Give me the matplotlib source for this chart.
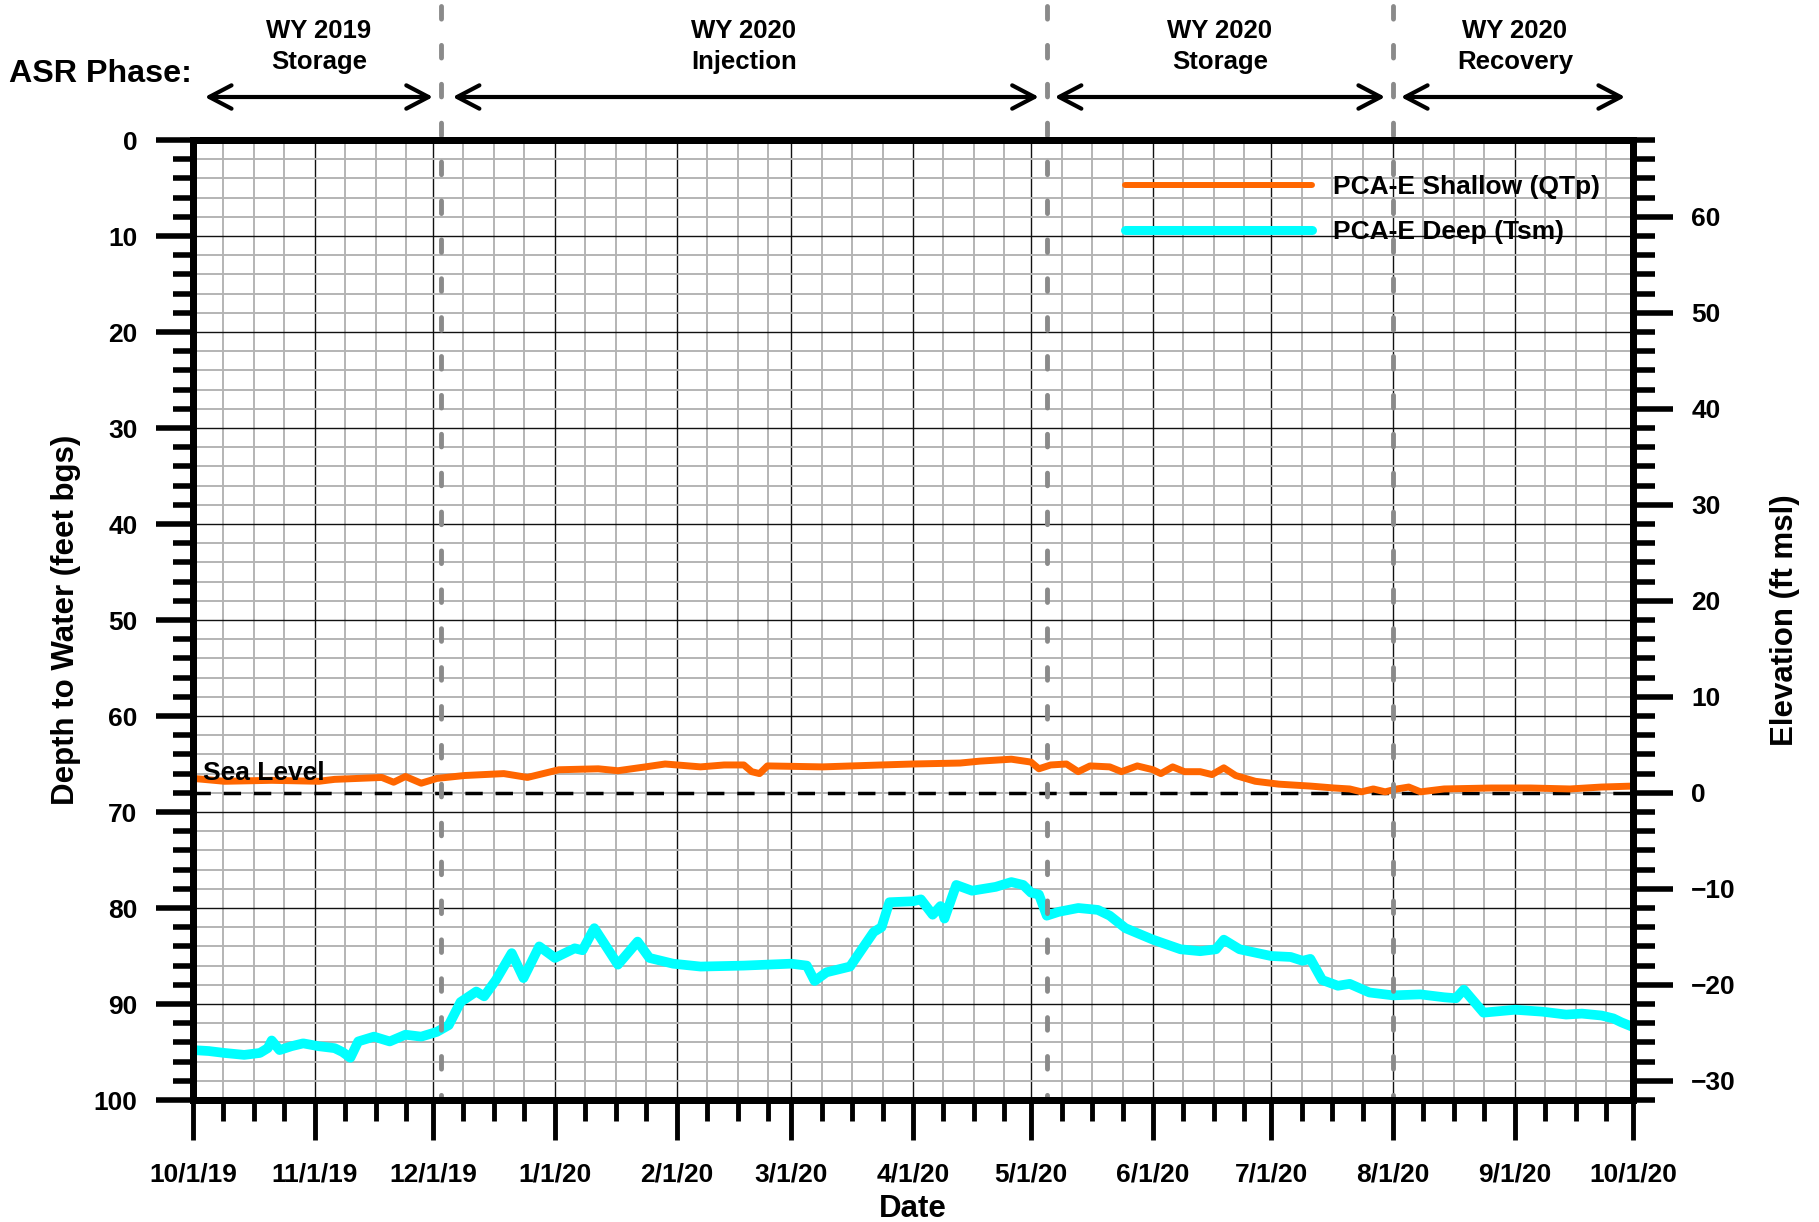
import matplotlib
matplotlib.use('Agg')
import matplotlib.pyplot as plt
import matplotlib.transforms as mtransforms
from matplotlib.patches import ArrowStyle
from matplotlib.lines import Line2D
from matplotlib.ticker import MultipleLocator, FixedLocator, FuncFormatter
import matplotlib.dates as mdates
import pandas as pd

plt.rcParams['font.family'] = ['Liberation Sans', 'DejaVu Sans']
plt.rcParams['font.weight'] = 'bold'

# ---------------- data ----------------
shallow_dates = ['2019-10-01', '2019-10-09', '2019-10-21', '2019-11-02', '2019-11-06', '2019-11-18',
                 '2019-11-21', '2019-11-24', '2019-11-28', '2019-12-02', '2019-12-09', '2019-12-19',
                 '2019-12-25', '2020-01-02', '2020-01-12', '2020-01-17', '2020-01-24', '2020-01-29',
                 '2020-02-07', '2020-02-13', '2020-02-18', '2020-02-20', '2020-02-22', '2020-02-24',
                 '2020-03-09', '2020-03-24', '2020-04-01', '2020-04-13', '2020-04-18', '2020-04-26',
                 '2020-05-01', '2020-05-03', '2020-05-06', '2020-05-10', '2020-05-13', '2020-05-16',
                 '2020-05-21', '2020-05-24', '2020-05-28', '2020-06-01', '2020-06-03', '2020-06-06',
                 '2020-06-09', '2020-06-13', '2020-06-16', '2020-06-19', '2020-06-22', '2020-06-27',
                 '2020-07-03', '2020-07-11', '2020-07-17', '2020-07-21', '2020-07-24', '2020-07-27',
                 '2020-07-30', '2020-08-02', '2020-08-05', '2020-08-08', '2020-08-14', '2020-08-26',
                 '2020-09-05', '2020-09-15', '2020-09-23', '2020-10-01']
shallow_depth = [66.5, 66.8, 66.7, 66.8, 66.6, 66.4,
                 66.9, 66.3, 67.0, 66.5, 66.2, 66.0,
                 66.4, 65.6, 65.5, 65.7, 65.3, 65.0,
                 65.3, 65.1, 65.1, 65.8, 66.0, 65.2,
                 65.3, 65.1, 65.0, 64.9, 64.7, 64.5,
                 64.8, 65.5, 65.1, 65.0, 65.8, 65.2,
                 65.3, 65.8, 65.2, 65.6, 66.0, 65.3,
                 65.8, 65.8, 66.1, 65.4, 66.2, 66.8,
                 67.1, 67.3, 67.5, 67.6, 67.9, 67.6,
                 67.9, 67.6, 67.4, 67.9, 67.6, 67.5,
                 67.5, 67.6, 67.4, 67.3]

deep_dates = ['2019-10-01', '2019-10-05', '2019-10-09', '2019-10-14', '2019-10-18', '2019-10-20',
              '2019-10-21', '2019-10-23', '2019-10-26', '2019-10-29', '2019-11-02', '2019-11-06',
              '2019-11-08', '2019-11-10', '2019-11-12', '2019-11-16', '2019-11-20', '2019-11-24',
              '2019-11-28', '2019-12-02', '2019-12-05', '2019-12-08', '2019-12-12', '2019-12-14',
              '2019-12-17', '2019-12-21', '2019-12-24', '2019-12-28', '2020-01-01', '2020-01-06',
              '2020-01-08', '2020-01-11', '2020-01-17', '2020-01-22', '2020-01-25', '2020-01-31',
              '2020-02-07', '2020-02-18', '2020-03-01', '2020-03-05', '2020-03-07', '2020-03-10',
              '2020-03-16', '2020-03-19', '2020-03-22', '2020-03-24', '2020-03-26', '2020-04-01',
              '2020-04-03', '2020-04-06', '2020-04-08', '2020-04-09', '2020-04-12', '2020-04-16',
              '2020-04-22', '2020-04-26', '2020-04-29', '2020-05-01', '2020-05-03', '2020-05-05',
              '2020-05-08', '2020-05-13', '2020-05-18', '2020-05-21', '2020-05-25', '2020-06-01',
              '2020-06-08', '2020-06-13', '2020-06-17', '2020-06-19', '2020-06-23', '2020-07-01',
              '2020-07-06', '2020-07-09', '2020-07-11', '2020-07-14', '2020-07-18', '2020-07-21',
              '2020-07-26', '2020-08-01', '2020-08-08', '2020-08-14', '2020-08-17', '2020-08-19',
              '2020-08-24', '2020-09-01', '2020-09-08', '2020-09-14', '2020-09-18', '2020-09-23',
              '2020-09-26', '2020-09-28', '2020-10-01']
deep_depth = [94.8, 94.9, 95.1, 95.3, 95.1, 94.6,
              93.8, 94.8, 94.4, 94.1, 94.4, 94.6,
              95.0, 95.6, 93.9, 93.4, 93.9, 93.2,
              93.4, 92.9, 92.2, 89.8, 88.7, 89.2,
              87.5, 84.7, 87.3, 84.0, 85.2, 84.2,
              84.4, 82.1, 85.9, 83.5, 85.2, 85.8,
              86.1, 86.0, 85.8, 86.0, 87.6, 86.7,
              86.1, 84.3, 82.5, 82.0, 79.4, 79.3,
              79.1, 80.7, 79.8, 81.1, 77.6, 78.2,
              77.8, 77.3, 77.6, 78.4, 78.6, 80.8,
              80.4, 80.0, 80.2, 80.8, 82.1, 83.3,
              84.3, 84.5, 84.3, 83.3, 84.3, 85.0,
              85.1, 85.5, 85.3, 87.5, 88.1, 87.9,
              88.8, 89.1, 89.0, 89.3, 89.4, 88.5,
              90.9, 90.6, 90.8, 91.1, 91.0, 91.2,
              91.5, 91.9, 92.4]

sea_level_depth = 68.0
phase_line_dates = ['2019-12-03', '2020-05-05', '2020-08-01']
phase_titles = ['WY 2019', 'WY 2020', 'WY 2020', 'WY 2020']
phase_names = ['Storage', 'Injection', 'Storage', 'Recovery']
phase_centers = ['2019-11-02', '2020-02-18', '2020-06-18', '2020-09-01']
phase_arrow_spans = [('2019-10-04', '2019-12-01'), ('2019-12-06', '2020-05-03'),
                     ('2020-05-07', '2020-07-30'), ('2020-08-03', '2020-09-29')]
x_start, x_end = '2019-10-01', '2020-10-01'


def dnum(s):
    return mdates.date2num(pd.Timestamp(s).to_pydatetime())


# ---------------- figure ----------------
W, H = 1819, 1222
fig = plt.figure(figsize=(W / 100, H / 100), dpi=100)
ax = fig.add_axes([193 / W, 1 - 1100 / H, 1440 / W, 960 / H])

sd = [dnum(s) for s in shallow_dates]
dd = [dnum(s) for s in deep_dates]

ax.axhline(sea_level_depth, color='black', lw=2.5, ls=(0, (5, 3.7)), zorder=2)
ax.plot(sd, shallow_depth, color='#FF6600', lw=5, solid_joinstyle='round',
        solid_capstyle='round', zorder=2.1)
ax.plot(dd, deep_depth, color='#00FFFF', lw=7, solid_joinstyle='round',
        solid_capstyle='round', zorder=2.1)

ax.set_xlim(dnum(x_start), dnum(x_end))
ax.set_ylim(100, 0)

# x ticks: month starts major, minor subdivisions
months = pd.date_range(x_start, x_end, freq='MS')
month_nums = [dnum(m) for m in months]
ax.xaxis.set_major_locator(FixedLocator(month_nums))
minor = []
for m in month_nums[:-1]:
    for k in (1, 2, 3):
        minor.append(m + 7.75 * k)
ax.xaxis.set_minor_locator(FixedLocator(minor))


def fmt_date(v, pos=None):
    d = mdates.num2date(v)
    return f"{d.month}/{d.day}/{d.year % 100}"


ax.xaxis.set_major_formatter(FuncFormatter(fmt_date))
ax.yaxis.set_major_locator(MultipleLocator(10))
ax.yaxis.set_minor_locator(MultipleLocator(2))

ax.set_axisbelow(True)
ax.grid(which='minor', color='#b4b4b4', lw=1.4)
ax.grid(which='major', color='#111111', lw=1.0)

ax.tick_params(axis='x', which='major', direction='out', length=29, width=3.5, pad=16,
               labelsize=19)
ax.tick_params(axis='x', which='minor', direction='out', length=15, width=3.5)
ax.tick_params(axis='y', which='major', direction='out', length=27, width=4, pad=13,
               labelsize=19)
ax.tick_params(axis='y', which='minor', direction='out', length=14.5, width=4)
for s in ax.spines.values():
    s.set_linewidth(5)

ax2 = ax.twinx()
ax2.set_ylim(sea_level_depth - 100, sea_level_depth - 0)
ax2.yaxis.set_major_locator(MultipleLocator(10))
ax2.yaxis.set_minor_locator(MultipleLocator(2))
ax2.tick_params(axis='y', which='major', direction='out', length=29, width=4, pad=13,
                labelsize=19)
ax2.tick_params(axis='y', which='minor', direction='out', length=16, width=4)
for s in ax2.spines.values():
    s.set_linewidth(5)

# labels
ax.set_ylabel('Depth to Water (feet bgs)', fontsize=22.5, fontweight='bold')
ax.yaxis.set_label_coords((66 - 193) / 1440, 0.5)
ax.yaxis.label.set_va('center')
ax.set_xlabel('Date', fontsize=22.5, fontweight='bold')
ax.xaxis.set_label_coords(0.5, (1100 - 1209) / 960)
ax.xaxis.label.set_va('center')
ax2.set_ylabel('Elevation (ft msl)', fontsize=22.5, fontweight='bold', rotation=90)
ax2.yaxis.set_label_coords((1785 - 193) / 1440, 0.5)
ax2.yaxis.label.set_va('center')

# sea level text
ax.text(dnum('2019-10-01') + 2.5, 66.7, 'Sea Level', fontsize=19,
        ha='left', va='baseline', zorder=3)

# phase lines, arrows and texts
blend = mtransforms.blended_transform_factory(ax.transData, ax.transAxes)
for d in phase_line_dates:
    t = dnum(d)
    ax.add_line(Line2D([t, t], [(1100 - 6) / 960, 0], transform=blend, color='#8a8a8a', lw=3.5,
                       ls=(0, (2.6, 5.4)), dash_capstyle='round', clip_on=False, zorder=2.3))

arrow_y = (1100 - 97) / 960
astyle = ArrowStyle('<->', head_length=0.8, head_width=0.42)
for (a, b) in phase_arrow_spans:
    ax.annotate('', xy=(dnum(b), arrow_y), xytext=(dnum(a), arrow_y),
                xycoords=blend, textcoords=blend, annotation_clip=False,
                arrowprops=dict(arrowstyle=astyle, lw=3, color='black', shrinkA=0,
                                shrinkB=0, mutation_scale=20, capstyle='round',
                                joinstyle='round'))
for c, t1, t2 in zip(phase_centers, phase_titles, phase_names):
    ax.text(dnum(c), (1100 - 38) / 960, t1, transform=blend, ha='center',
            va='baseline', fontsize=18.5, clip_on=False)
    ax.text(dnum(c), (1100 - 68.5) / 960, t2, transform=blend, ha='center',
            va='baseline', fontsize=18.5, clip_on=False)

fig.text(9 / W, 1 - 82.5 / H, 'ASR Phase:', fontsize=23.2, ha='left', va='baseline')

# legend
handles = [Line2D([], [], color='#FF6600', lw=4.3, solid_capstyle='round'),
           Line2D([], [], color='#00FFFF', lw=6.5, solid_capstyle='round')]
labels = ['PCA-E Shallow (QTp)', 'PCA-E Deep (Tsm)']
leg = ax2.legend(handles, labels, loc='upper left',
                 bbox_to_anchor=((1125 - 193) / 1440, (1100 - 175) / 960),
                 frameon=False, borderpad=0, borderaxespad=0, handlelength=7.1,
                 handletextpad=0.8, labelspacing=0.8, prop={'size': 19, 'weight': 'bold'})

fig.savefig('out.png', dpi=100)
